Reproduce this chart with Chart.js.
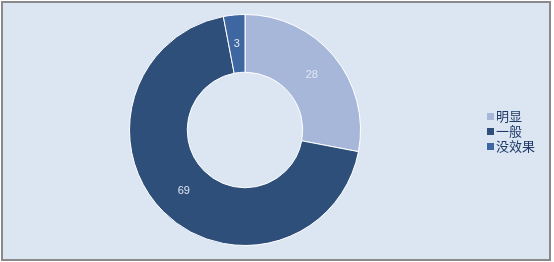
<!DOCTYPE html>
<html><head><meta charset="utf-8">
<script src="https://cdn.jsdelivr.net/npm/chart.js@4/dist/chart.umd.min.js"></script>
<style>
html,body{margin:0;padding:0;background:#fff;}
#wrap{position:absolute;left:1px;top:1px;width:546px;height:256px;border:2px solid #8a8a8a;background:#dbe6f2;}
#c{position:absolute;left:-3px;top:-3px;}
</style></head>
<body>
<div id="wrap"><canvas id="c" width="554" height="262"></canvas></div>
<script>
const categories = ['明显', '一般', '没效果'];
const values = [28, 69, 3];
const colors = ['#a7b7d9', '#2f4f7b', '#3e66a1'];

const labelPlugin = {
  id: 'sliceLabels',
  afterDatasetsDraw(chart) {
    const ctx = chart.ctx;
    const meta = chart.getDatasetMeta(0);
    ctx.save();
    ctx.font = '11px "Liberation Sans", Arial, sans-serif';
    ctx.fillStyle = '#e2e8f2';
    ctx.textAlign = 'center';
    ctx.textBaseline = 'middle';
    meta.data.forEach((arc, i) => {
      const p = arc.tooltipPosition();
      ctx.fillText(String(values[i]), p.x, p.y);
    });
    ctx.restore();
  }
};

const legendPlugin = {
  id: 'sideLegend',
  afterDraw(chart) {
    const ctx = chart.ctx;
    ctx.save();
    ctx.font = '13px "Noto Sans CJK SC", sans-serif';
    ctx.textBaseline = 'middle';
    categories.forEach((c, i) => {
      const y = 116.5 + i * 15;
      ctx.fillStyle = colors[i];
      ctx.fillRect(487, y - 3.5, 7, 7);
      ctx.fillStyle = '#1f3a68';
      ctx.fillText(c, 496, y);
    });
    ctx.restore();
  }
};

new Chart(document.getElementById('c'), {
  type: 'doughnut',
  data: {
    labels: categories,
    datasets: [{
      data: values,
      backgroundColor: colors,
      borderColor: '#ffffff',
      borderWidth: 1
    }]
  },
  options: {
    responsive: false,
    animation: false,
    cutout: '50%',
    layout: { padding: { left: 129, right: 193, top: 14, bottom: 16 } },
    plugins: { legend: { display: false }, tooltip: { enabled: false } }
  },
  plugins: [labelPlugin, legendPlugin]
});
</script>
</body></html>
